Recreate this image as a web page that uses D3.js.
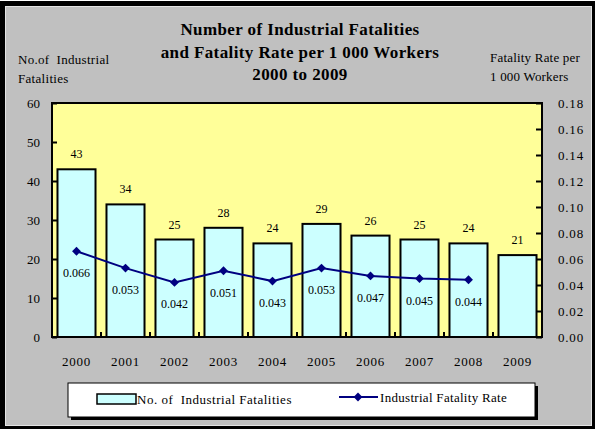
<!DOCTYPE html>
<html>
<head>
<meta charset="utf-8">
<script src="https://cdn.jsdelivr.net/npm/d3@7"></script>
<style>
html,body{margin:0;padding:0;background:#fff;}
svg{display:block;}
text{font-family:"Liberation Serif","Times New Roman",serif;fill:#000;}
</style>
</head>
<body>
<svg id="chart" width="600" height="432"></svg>
<script>
const years = ["2000","2001","2002","2003","2004","2005","2006","2007","2008","2009"];
const fatalities = [43, 34, 25, 28, 24, 29, 26, 25, 24, 21];
const rates = [0.066, 0.053, 0.042, 0.051, 0.043, 0.053, 0.047, 0.045, 0.044, null];
const leftTicks = [0, 10, 20, 30, 40, 50, 60];
const rightTicks = [0, 0.02, 0.04, 0.06, 0.08, 0.10, 0.12, 0.14, 0.16, 0.18];
const titleLines = ["Number of Industrial Fatalities", "and Fatality Rate per 1 000 Workers", "2000 to 2009"];
const leftTitle = ["No.of  Industrial", "Fatalities"];
const rightTitle = ["Fatality Rate per", "1 000 Workers"];
const legendLabels = ["No. of  Industrial Fatalities", "Industrial Fatality Rate"];

const svg = d3.select("#chart");
const plot = {x0: 52, x1: 542, y0: 103, y1: 337};

// outer frame
svg.append("rect").attr("x",0).attr("y",1).attr("width",595).attr("height",428).attr("fill","#000");
svg.append("rect").attr("x",5).attr("y",6).attr("width",587).attr("height",420).attr("fill","#e4e4e4");
svg.append("rect").attr("x",6).attr("y",7).attr("width",585).attr("height",418).attr("fill","#c0c0c0");

const x = d3.scaleBand().domain(years).range([plot.x0, plot.x1]).paddingInner(0.224).paddingOuter(0.112);
const xc = d3.scaleBand().domain(years).range([plot.x0, plot.x1]);
const yL = d3.scaleLinear().domain([0,60]).range([plot.y1, plot.y0]);
const yR = d3.scaleLinear().domain([0,0.18]).range([plot.y1, plot.y0]);

// plot background
svg.append("rect").attr("x",plot.x0).attr("y",plot.y0).attr("width",plot.x1-plot.x0).attr("height",plot.y1-plot.y0)
  .attr("fill","#ffff99");

// bars
svg.append("g").selectAll("rect").data(fatalities).join("rect")
  .attr("x",(d,i)=>x(years[i])).attr("y",d=>yL(d))
  .attr("width",x.bandwidth()).attr("height",d=>yL(0)-yL(d))
  .attr("fill","#ccffff").attr("stroke","#000").attr("stroke-width",2);

// bar labels
svg.append("g").selectAll("text").data(fatalities).join("text")
  .attr("x",(d,i)=>x(years[i])+x.bandwidth()/2).attr("y",d=>yL(d)-11)
  .attr("text-anchor","middle").attr("font-size",12).text(d=>d);

// plot border
svg.append("rect").attr("x",plot.x0).attr("y",plot.y0).attr("width",plot.x1-plot.x0).attr("height",plot.y1-plot.y0)
  .attr("fill","none").attr("stroke","#000").attr("stroke-width",2);

// left axis
const gL = svg.append("g").attr("transform",`translate(${plot.x0},0)`)
  .call(d3.axisLeft(yL).tickValues(leftTicks).tickSize(-5).tickPadding(12).tickFormat(d3.format("d")));
gL.select(".domain").remove();
gL.selectAll("line").attr("stroke","#000").attr("stroke-width",2);
gL.selectAll("text").attr("font-size",13).attr("font-family","Liberation Serif");

// right axis
const gR = svg.append("g").attr("transform",`translate(${plot.x1},0)`)
  .call(d3.axisRight(yR).tickValues(rightTicks).tickSize(-6).tickPadding(16).tickFormat(d3.format(".2f")));
gR.select(".domain").remove();
gR.selectAll("line").attr("stroke","#000").attr("stroke-width",2);
gR.selectAll("text").attr("font-size",13).attr("font-family","Liberation Serif").attr("letter-spacing",0.8);

// bottom axis (ticks at category boundaries)
const gB = svg.append("g").attr("transform",`translate(0,${plot.y1})`)
  .call(d3.axisBottom(xc).tickSize(0).tickPadding(20));
gB.select(".domain").remove();
gB.selectAll("text").attr("font-size",13).attr("font-family","Liberation Serif").attr("letter-spacing",0.8);
svg.append("g").selectAll("line").data(years.slice(1)).join("line")
  .attr("x1",d=>xc(d)).attr("x2",d=>xc(d)).attr("y1",plot.y1).attr("y2",plot.y1-5)
  .attr("stroke","#000").attr("stroke-width",2);

// rate line
const pts = rates.map((r,i)=>({r, year: years[i]})).filter(d=>d.r!==null);
const line = d3.line().x(d=>xc(d.year)+xc.bandwidth()/2).y(d=>yR(d.r));
svg.append("path").datum(pts).attr("d",line).attr("fill","none").attr("stroke","#000080").attr("stroke-width",2);
const diamond = d3.symbol().type(d3.symbolDiamond2).size(50);
svg.append("g").selectAll("path").data(pts).join("path")
  .attr("transform",d=>`translate(${xc(d.year)+xc.bandwidth()/2},${yR(d.r)})`)
  .attr("d",diamond).attr("fill","#000080");
svg.append("g").selectAll("text").data(pts).join("text")
  .attr("x",d=>xc(d.year)+xc.bandwidth()/2).attr("y",d=>yR(d.r)+26)
  .attr("text-anchor","middle").attr("font-size",12).text(d=>d3.format(".3f")(d.r));

// title
svg.append("g").selectAll("text").data(titleLines).join("text")
  .attr("x",300).attr("y",(d,i)=>35+i*22.5).attr("text-anchor","middle")
  .attr("font-size",17).attr("font-weight","bold").attr("letter-spacing",0.4).text(d=>d);

// axis titles
svg.append("g").selectAll("text").data(leftTitle).join("text")
  .attr("x",18).attr("y",(d,i)=>64+i*19).attr("font-size",13).attr("letter-spacing",0.3)
  .style("white-space","pre").attr("xml:space","preserve").text(d=>d);
svg.append("g").selectAll("text").data(rightTitle).join("text")
  .attr("x",490).attr("y",(d,i)=>62+i*19).attr("font-size",13).attr("letter-spacing",0.2).text(d=>d);

// legend
const lg = {x:68, y:383, w:467, h:34};
svg.append("rect").attr("x",lg.x+3).attr("y",lg.y+3).attr("width",lg.w).attr("height",lg.h).attr("fill","#000");
svg.append("rect").attr("x",lg.x).attr("y",lg.y).attr("width",lg.w).attr("height",lg.h).attr("fill","#fff").attr("stroke","#000").attr("stroke-width",1);
svg.append("rect").attr("x",97).attr("y",394).attr("width",39).attr("height",10)
  .attr("fill","#ccffff").attr("stroke","#000").attr("stroke-width",1.5);
svg.append("text").attr("x",137).attr("y",404).attr("font-size",13).attr("letter-spacing",0.5)
  .style("white-space","pre").attr("xml:space","preserve").text(legendLabels[0]);
svg.append("line").attr("x1",339).attr("x2",378).attr("y1",397).attr("y2",397).attr("stroke","#000080").attr("stroke-width",2);
svg.append("path").attr("transform","translate(358,397)").attr("d",diamond).attr("fill","#000080");
svg.append("text").attr("x",380).attr("y",402).attr("font-size",13).attr("letter-spacing",0.3).text(legendLabels[1]);
</script>
</body>
</html>
